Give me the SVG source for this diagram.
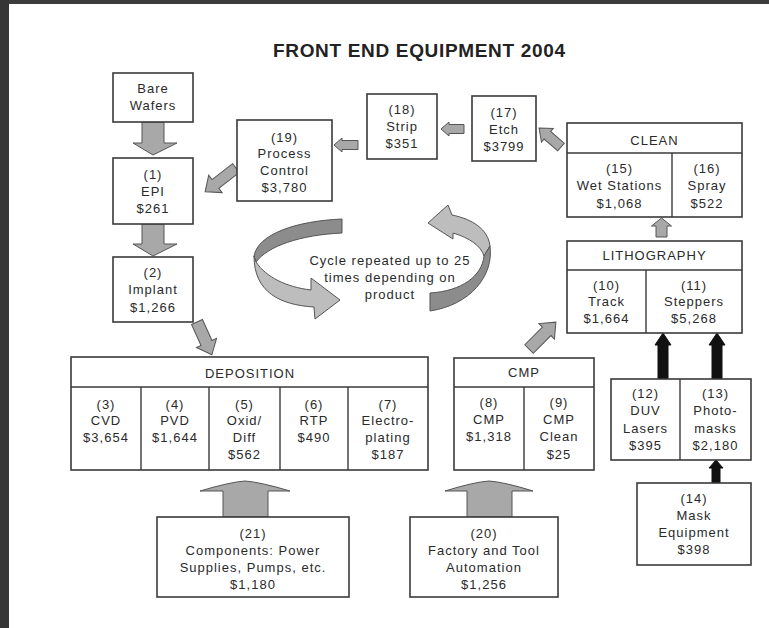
<svg xmlns="http://www.w3.org/2000/svg" width="769" height="628" viewBox="0 0 769 628">
<style>
.box{fill:#fff;stroke:#3a3a3a;stroke-width:1.6}
.div{stroke:#3a3a3a;stroke-width:1.4;fill:none}
.t{font-family:"Liberation Sans",Arial,sans-serif;font-size:13px;letter-spacing:1px;fill:#2a2a2a;text-anchor:middle}
.ga{fill:#a8a8a8;stroke:#555;stroke-width:1}
.ba{fill:#111;stroke:#111;stroke-width:1}
.dk{fill:#8c8c8c;stroke:#555;stroke-width:1}
.lt{fill:#bdbdbd;stroke:#555;stroke-width:1}
</style>
<rect x="0" y="0" width="769" height="628" fill="#fff"/>
<rect x="0" y="0" width="769" height="4" fill="#3c3c3c"/>
<rect x="0" y="0" width="9" height="628" fill="#363636"/>
<text x="419" y="57" font-family="Liberation Sans,Arial,sans-serif" font-size="19" font-weight="bold" fill="#222" text-anchor="middle" textLength="292" lengthAdjust="spacing">FRONT END EQUIPMENT 2004</text>

<g id="connectors">
<polygon class="ga" points="142,122 142,143 133,143 153,155 177,143 164,143 164,122"/>
<polygon class="ga" points="142,224 142,244 133,244 153,256 177,244 164,244 164,224"/>
<polygon class="ga" transform="translate(236,168) rotate(142.3)" points="0,-5.5 26,-5.5 26,-11 39,0 26,11 26,5.5 0,5.5"/>
<polygon class="ga" points="358,140.5 342,140.5 342,138 334,145 342,152 342,149.5 358,149.5"/>
<polygon class="ga" points="464,124.5 449,124.5 449,122 441,129 449,136 449,133.5 464,133.5"/>
<polygon class="ga" transform="translate(561,147) rotate(-139.2)" points="0,-5 18,-5 18,-9 29,0 18,9 18,5 0,5"/>
<polygon class="ga" points="656,237 656,226 651.5,226 661.5,218 671.5,226 667,226 667,237"/>
<polygon class="ga" transform="translate(529,349) rotate(-45)" points="0,-6 25,-6 25,-11 38,0 25,11 25,6 0,6"/>
<polygon class="ga" transform="translate(197,322) rotate(65.6)" points="0,-6 23,-6 23,-11 36,0 23,11 23,6 0,6"/>
<polygon class="ba" points="658,379 658,345 655,345 663,333 671,345 668,345 668,379"/>
<polygon class="ba" points="712,379 712,345 709,345 717,333 725,345 722,345 722,379"/>
<polygon class="ba" points="712,483 712,468 709,468 716,460 723,468 720,468 720,483"/>
<path class="ga" d="M223,517 L223,491 L200,491 Q230,482 245,481 Q260,482 290,491 L268,491 L268,517 Z"/>
<path class="ga" d="M467,517 L467,491 L445,491 Q474,482 489,481 Q504,482 533,491 L512,491 L512,517 Z"/>
</g>

<g id="cycle">
<path class="dk" d="M342,219 L342,233 C300,235 268,246 256,262 L254,256 C258,234 296,221 342,219 Z"/>
<path class="lt" d="M256,262 C266,277 286,287 311,290 L311,278 L340,300 L315,319 L314,307 C280,305 254,292 254,256 Z"/>
<path class="lt" d="M452,215 C472,219 488,229 490,246 L484,256 C481,246 470,238 453,233 L453,239 L428,223 L448,205 Z"/>
<path class="dk" d="M490,246 C494,276 470,305 430,311 L430,293 C462,291 482,276 484,256 Z"/>
<text class="t" x="390" y="264.5">Cycle repeated up to 25</text>
<text class="t" x="390" y="281.5">times depending on</text>
<text class="t" x="390" y="298.5">product</text>
</g>

<g id="bare-wafers">
<rect class="box" x="113" y="73" width="80" height="49"/>
<text class="t" x="153" y="93">Bare</text>
<text class="t" x="153" y="110">Wafers</text>
</g>

<g id="epi">
<rect class="box" x="113" y="158" width="80" height="66"/>
<text class="t" x="153" y="178.5">(1)</text>
<text class="t" x="153" y="195.5">EPI</text>
<text class="t" x="153" y="212.5">$261</text>
</g>

<g id="implant">
<rect class="box" x="113" y="257" width="80" height="65"/>
<text class="t" x="153" y="276.5">(2)</text>
<text class="t" x="153" y="294">Implant</text>
<text class="t" x="153" y="311.5">$1,266</text>
</g>

<g id="process-control">
<rect class="box" x="237" y="120" width="95" height="81"/>
<text class="t" x="284.5" y="141.5">(19)</text>
<text class="t" x="284.5" y="158">Process</text>
<text class="t" x="284.5" y="175">Control</text>
<text class="t" x="284.5" y="191.5">$3,780</text>
</g>

<g id="strip">
<rect class="box" x="367" y="94" width="70" height="65"/>
<text class="t" x="402" y="113.5">(18)</text>
<text class="t" x="402" y="130.5">Strip</text>
<text class="t" x="402" y="147.5">$351</text>
</g>

<g id="etch">
<rect class="box" x="472" y="96" width="64" height="65"/>
<text class="t" x="504" y="116.5">(17)</text>
<text class="t" x="504" y="133.5">Etch</text>
<text class="t" x="504" y="150.5">$3799</text>
</g>

<g id="clean">
<rect class="box" x="567" y="123" width="175" height="94"/>
<line class="div" x1="567" y1="153" x2="742" y2="153"/>
<line class="div" x1="672" y1="153" x2="672" y2="217"/>
<text class="t" x="654.5" y="145">CLEAN</text>
<text class="t" x="619.5" y="172.5">(15)</text>
<text class="t" x="619.5" y="190">Wet Stations</text>
<text class="t" x="619.5" y="207.5">$1,068</text>
<text class="t" x="707" y="172.5">(16)</text>
<text class="t" x="707" y="190">Spray</text>
<text class="t" x="707" y="207.5">$522</text>
</g>

<g id="lithography">
<rect class="box" x="567" y="241" width="175" height="92"/>
<line class="div" x1="567" y1="270" x2="742" y2="270"/>
<line class="div" x1="646" y1="270" x2="646" y2="333"/>
<text class="t" x="654.5" y="260">LITHOGRAPHY</text>
<text class="t" x="606.5" y="289.5">(10)</text>
<text class="t" x="606.5" y="306">Track</text>
<text class="t" x="606.5" y="322.5">$1,664</text>
<text class="t" x="694" y="289.5">(11)</text>
<text class="t" x="694" y="306">Steppers</text>
<text class="t" x="694" y="322.5">$5,268</text>
</g>

<g id="duv-photomasks">
<rect class="box" x="611" y="379" width="140" height="81"/>
<line class="div" x1="680" y1="379" x2="680" y2="460"/>
<text class="t" x="645.5" y="397.5">(12)</text>
<text class="t" x="645.5" y="415">DUV</text>
<text class="t" x="645.5" y="432.5">Lasers</text>
<text class="t" x="645.5" y="450">$395</text>
<text class="t" x="715.5" y="397.5">(13)</text>
<text class="t" x="715.5" y="415">Photo-</text>
<text class="t" x="715.5" y="432.5">masks</text>
<text class="t" x="715.5" y="450">$2,180</text>
</g>

<g id="mask-equipment">
<rect class="box" x="637" y="483" width="114" height="82"/>
<text class="t" x="694" y="502.5">(14)</text>
<text class="t" x="694" y="519.5">Mask</text>
<text class="t" x="694" y="537">Equipment</text>
<text class="t" x="694" y="553.5">$398</text>
</g>

<g id="cmp">
<rect class="box" x="454" y="358" width="140" height="112"/>
<line class="div" x1="454" y1="387" x2="594" y2="387"/>
<line class="div" x1="524" y1="387" x2="524" y2="470"/>
<text class="t" x="524" y="377">CMP</text>
<text class="t" x="489" y="406.5">(8)</text>
<text class="t" x="489" y="423.5">CMP</text>
<text class="t" x="489" y="441">$1,318</text>
<text class="t" x="559" y="406.5">(9)</text>
<text class="t" x="559" y="423.5">CMP</text>
<text class="t" x="559" y="441">Clean</text>
<text class="t" x="559" y="458.5">$25</text>
</g>

<g id="deposition">
<rect class="box" x="71" y="357" width="357" height="113"/>
<line class="div" x1="71" y1="387" x2="428" y2="387"/>
<line class="div" x1="141" y1="387" x2="141" y2="470"/>
<line class="div" x1="209" y1="387" x2="209" y2="470"/>
<line class="div" x1="280" y1="387" x2="280" y2="470"/>
<line class="div" x1="348" y1="387" x2="348" y2="470"/>
<text class="t" x="250" y="377.5">DEPOSITION</text>
<text class="t" x="106" y="408.5">(3)</text>
<text class="t" x="106" y="425">CVD</text>
<text class="t" x="106" y="441.5">$3,654</text>
<text class="t" x="175" y="408.5">(4)</text>
<text class="t" x="175" y="425">PVD</text>
<text class="t" x="175" y="441.5">$1,644</text>
<text class="t" x="244.5" y="408.5">(5)</text>
<text class="t" x="244.5" y="425">Oxid/</text>
<text class="t" x="244.5" y="441.5">Diff</text>
<text class="t" x="244.5" y="458.5">$562</text>
<text class="t" x="314" y="408.5">(6)</text>
<text class="t" x="314" y="425">RTP</text>
<text class="t" x="314" y="441.5">$490</text>
<text class="t" x="388" y="408.5">(7)</text>
<text class="t" x="388" y="425">Electro-</text>
<text class="t" x="388" y="441.5">plating</text>
<text class="t" x="388" y="458.5">$187</text>
</g>

<g id="components">
<rect class="box" x="157" y="517" width="192" height="80"/>
<text class="t" x="253" y="537.5">(21)</text>
<text class="t" x="253" y="554.5">Components: Power</text>
<text class="t" x="253" y="571.5">Supplies, Pumps, etc.</text>
<text class="t" x="253" y="588.5">$1,180</text>
</g>

<g id="factory-automation">
<rect class="box" x="410" y="517" width="148" height="80"/>
<text class="t" x="484" y="537.5">(20)</text>
<text class="t" x="484" y="554.5">Factory and Tool</text>
<text class="t" x="484" y="571.5">Automation</text>
<text class="t" x="484" y="588.5">$1,256</text>
</g>
</svg>
